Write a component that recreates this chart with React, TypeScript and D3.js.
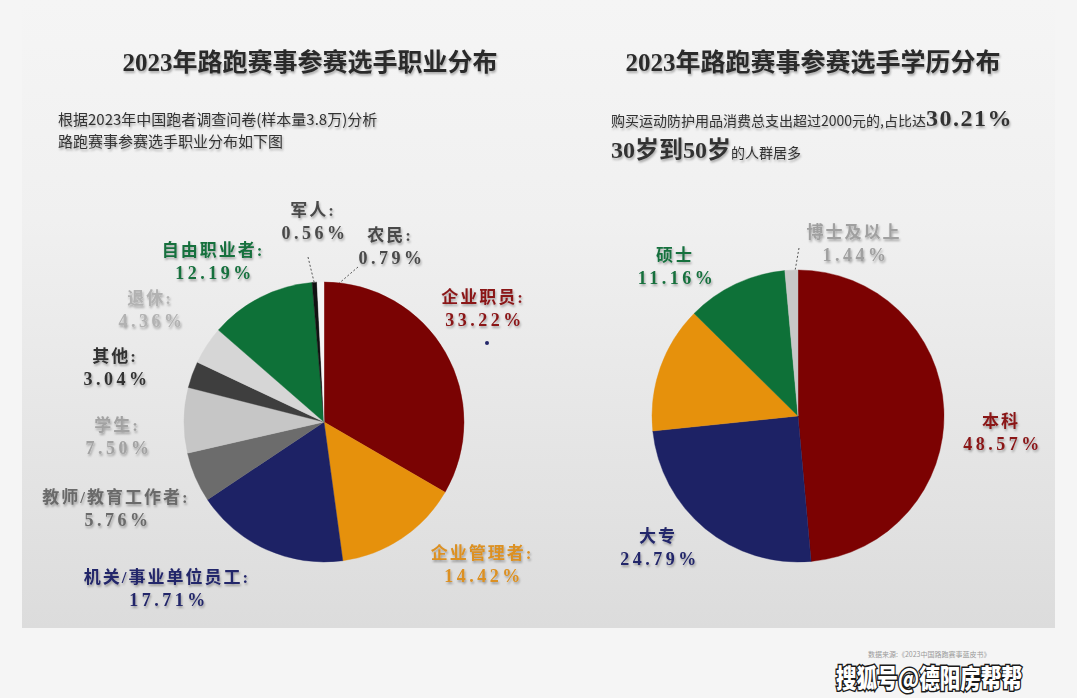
import React from "react";
import * as d3 from "d3";

const W = 1077;
const H = 698;

// 职业分布
const jobNames = ["企业职员", "企业管理者", "机关/事业单位员工", "教师/教育工作者", "学生", "其他", "退休", "自由职业者", "军人", "农民"];
const jobValues = [33.22, 14.42, 17.71, 5.76, 7.5, 3.04, 4.36, 12.19, 0.56, 0.79];
const jobColors = ["#7a0303", "#e6910c", "#1d2265", "#6c6c6c", "#c6c6c6", "#3e3e3e", "#d6d6d6", "#0e7138", "#111111", "#f4f4f4"];
const jobTextColors = ["#8a1518", "#dc9020", "#24276a", "#6a6a6a", "#a2a2a2", "#333333", "#b2b2b2", "#16703e", "#4a4a4a", "#4a4a4a"];

// 学历分布 (橙色扇区在原图中没有标注)
const eduNames = ["本科", "大专", "", "硕士", "博士及以上"];
const eduValues = [48.57, 24.79, 14.04, 11.16, 1.44];
const eduColors = ["#7c0202", "#1d2265", "#e6910c", "#0e7138", "#c8c8c8"];
const eduTextColors = ["#8a1518", "#24276a", "#dc9020", "#16703e", "#a0a0a0"];

// label layout (center of first line)
const jobLabelPos = [[483, 297], [482, 553], [167, 577], [116, 497], [117, 425], [115, 356], [150, 298], [213, 250], [313, 210], [390, 235]];
const eduLabelPos = [[1001, 421], [658, 536], [0, 0], [675, 255], [854, 232]];

const serif = "'Liberation Serif','DejaVu Serif','Noto Sans CJK SC',serif";
const cjk = "'Noto Sans CJK SC','Liberation Serif',serif";

function Pie({ cx, cy, r, values, colors, names, textColors, pos, colon }) {
  const arcs = d3.pie<number>().sort(null).value(d => d)(values);
  const arc = d3.arc<any>().innerRadius(0).outerRadius(r);
  return <g>
    <g transform={`translate(${cx},${cy})`}>
      {arcs.map((a, i) => <path key={i} d={arc(a) as string} fill={colors[i]} stroke={colors[i]} strokeWidth={0.4} />)}
    </g>
    {names.map((n, i) => n === "" ? null : <g key={i} filter="url(#ts)" fontWeight="bold" fill={textColors[i]} textAnchor="middle">
      <text x={pos[i][0]} y={pos[i][1] + 6} fontFamily={serif} fontSize={17} letterSpacing={2}>{n + colon}</text>
      <text x={pos[i][0] + 2} y={pos[i][1] + 29} fontFamily={serif} fontSize={18} letterSpacing={3.5}>{d3.format(".2f")(values[i]) + "%"}</text>
    </g>)}
  </g>
}

export default function App() {
  return <svg width={W} height={H} style={{ position: "absolute", left: 0, top: 0, background: "#f4f4f4" }}>
    <defs>
      <linearGradient id="panel" x1="0" y1="0" x2="0" y2="1">
        <stop offset="0" stopColor="#f5f5f5" />
        <stop offset="0.35" stopColor="#f0f0f0" />
        <stop offset="1" stopColor="#dcdcdc" />
      </linearGradient>
      <filter id="ts" x="-20%" y="-40%" width="140%" height="180%">
        <feDropShadow dx="1" dy="2" stdDeviation="1.3" floodColor="#000" floodOpacity="0.3" />
      </filter>
    </defs>
    <rect x={0} y={0} width={W} height={H} fill="#f5f5f5" />
    <rect x={22} y={0} width={1033} height={628} fill="url(#panel)" />

    {/* titles */}
    <g filter="url(#ts)" fontWeight="bold" fill="#2c2c2c" textAnchor="middle" fontFamily={serif} fontSize={25}>
      <text x={310} y={71}>2023年路跑赛事参赛选手职业分布</text>
      <text x={813} y={71}>2023年路跑赛事参赛选手学历分布</text>
    </g>

    {/* subtitles */}
    <g fill="#333" fontFamily={cjk} filter="url(#ts)">
      <text x={58} y={125} fontSize={15}>根据2023年中国跑者调查问卷(样本量3.8万)分析</text>
      <text x={58} y={147} fontSize={15}>路跑赛事参赛选手职业分布如下图</text>
      <text x={611} y={126} fontSize={14}>购买运动防护用品消费总支出超过2000元的,占比达
        <tspan fontFamily={serif} fontWeight="bold" fontSize={24} letterSpacing={1.5}>30.21%</tspan>
      </text>
      <text x={611} y={158} fontSize={14}>
        <tspan fontFamily={serif} fontWeight="bold" fontSize={24}>30岁到50岁</tspan>
        <tspan>的人群居多</tspan>
      </text>
    </g>

    {/* leader lines */}
    <g stroke="#555" strokeWidth={1} strokeDasharray="2,2" fill="none">
      <line x1={308} y1={257} x2={316} y2={290} />
      <line x1={358} y1={267} x2={322} y2={298} />
      <line x1={799} y1={248} x2={790} y2={300} />
    </g>

    <Pie cx={324} cy={422} r={140} values={jobValues} colors={jobColors} names={jobNames}
      textColors={jobTextColors} pos={jobLabelPos} colon=":" />
    <Pie cx={798} cy={416} r={146} values={eduValues} colors={eduColors} names={eduNames}
      textColors={eduTextColors} pos={eduLabelPos} colon="" />

    <circle cx={487} cy={343} r={2} fill="#24276a" />

    {/* source + watermark */}
    <text x={868} y={657} fontSize={7} fill="#999" fontFamily={cjk}>数据来源:《2023中国路跑赛事蓝皮书》</text>
    <text x={836} y={688} fontSize={26} fontFamily={cjk} fontWeight={900} fill="#fff" stroke="#1a1a1a"
      strokeWidth={3} style={{ paintOrder: "stroke" }} textLength={186} lengthAdjust="spacingAndGlyphs">搜狐号@德阳房帮帮</text>
  </svg>
}
